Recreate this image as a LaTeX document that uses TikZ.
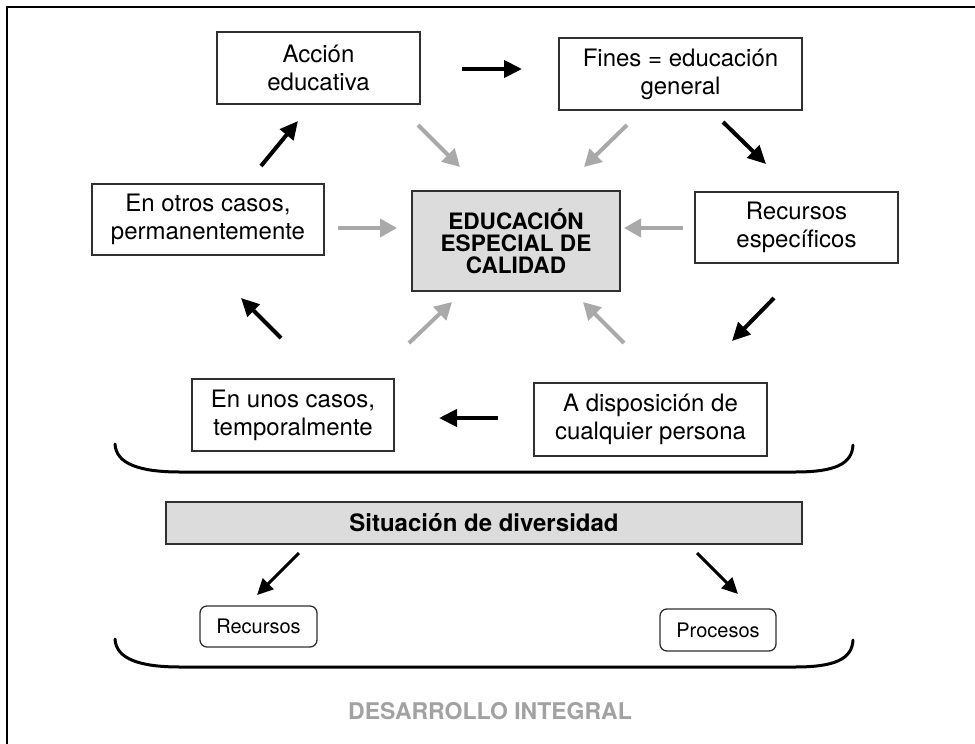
\documentclass[tikz,border=0pt]{standalone}
\usepackage{fontspec}
\setmainfont{TeX Gyre Heros}
\usetikzlibrary{arrows.meta}
\definecolor{grisborde}{HTML}{303030}
\definecolor{grisfondo}{HTML}{DCDCDC}
\definecolor{grisflecha}{HTML}{A9A9A9}
\definecolor{gristexto}{HTML}{A2A2A2}
\begin{document}
\begin{tikzpicture}[x=1pt,y=-1pt,
		caja/.style={draw=grisborde, line width=1.3pt, align=center, inner sep=0pt, font=\fontsize{24}{28}\selectfont},
		cajagris/.style={caja, fill=grisfondo, font=\bfseries\fontsize{22.6}{22}\selectfont},
		cajita/.style={caja, rounded corners=7pt, font=\fontsize{20}{24}\selectfont},
		negra/.style={line width=4pt, -{Triangle[length=18pt,width=17pt]}},
		gris/.style={negra, draw=grisflecha, -{Triangle[length=17pt,width=18pt]}},
		fina/.style={line width=3pt, -{Triangle[length=16pt,width=15pt]}},
		llave/.style={line width=3pt, line cap=round}]
		\useasboundingbox (0,0) rectangle (975,744);
		\draw[line width=1.5pt] (7,744) -- (7,7) -- (975,7);
		
		\node[caja, minimum width=203, minimum height=72] (accion) at (318.5,68) {Acción\\educativa};
		\node[caja, minimum width=243, minimum height=72] (fines) at (680.5,74) {Fines = educación\\general};
		\node[caja, minimum width=203, minimum height=71] (especificos) at (796.5,227.5) {Recursos\\específicos};
		\node[cajagris, minimum width=208, minimum height=100] (centro) at (516,241) {EDUCACIÓN\\ESPECIAL DE\\CALIDAD};
		\node[caja, minimum width=232, minimum height=71] (otros) at (208,219.5) {En otros casos,\\permanentemente};
		\node[caja, minimum width=202, minimum height=72] (unos) at (293,415) {En unos casos,\\temporalmente};
		\node[caja, minimum width=233, minimum height=73] (disposicion) at (650.5,419.5) {A disposición de\\cualquier persona};
		\node[cajagris, minimum width=636, minimum height=42, font=\bfseries\fontsize{24}{28}\selectfont] (situacion) at (484,523) {Situación de diversidad};
		\node[cajita, minimum width=117, minimum height=41] (recursos) at (258.5,626.5) {Recursos};
		\node[cajita, minimum width=116, minimum height=42] (procesos) at (718,630) {Procesos};
		\node[text=gristexto, font=\bfseries\fontsize{23}{23}\selectfont] (desarrollo) at (490,711) {DESARROLLO INTEGRAL};
		
		% flechas del ciclo
		\coordinate (n1a) at (462,69);  \coordinate (n1b) at (522,69);
		\coordinate (n2a) at (723,122); \coordinate (n2b) at (766,164);
		\coordinate (n3a) at (774,298); \coordinate (n3b) at (732,341);
		\coordinate (n4a) at (498,418); \coordinate (n4b) at (439,418);
		\coordinate (n5a) at (281,338); \coordinate (n5b) at (241,298);
		\coordinate (n6a) at (261,166); \coordinate (n6b) at (298,121);
		\draw[negra] (n1a) -- (n1b);
		\draw[negra] (n2a) -- (n2b);
		\draw[negra] (n3a) -- (n3b);
		\draw[negra] (n4a) -- (n4b);
		\draw[negra] (n5a) -- (n5b);
		\draw[negra] (n6a) -- (n6b);
		
		% flechas hacia el centro
		\coordinate (g1a) at (418,125); \coordinate (g1b) at (460,167);
		\coordinate (g2a) at (627,125); \coordinate (g2b) at (584,167);
		\coordinate (g3a) at (338,228); \coordinate (g3b) at (397,228);
		\coordinate (g4a) at (683,228); \coordinate (g4b) at (624,228);
		\coordinate (g5a) at (409,343); \coordinate (g5b) at (452,302);
		\coordinate (g6a) at (624,343); \coordinate (g6b) at (583,302);
		\foreach \i in {1,...,6}
			\draw[gris] (g\i a) -- (g\i b);
		
		% llaves
		\draw[llave] (115,444) .. controls (116,464) and (140,472) .. (180,472) -- (795,472) .. controls (835,472) and (852,464) .. (853,445);
		\draw[llave] (115,639) .. controls (116,659) and (140,667) .. (180,667) -- (795,667) .. controls (835,667) and (852,659) .. (853,640);
		
		\coordinate (s1) at (299,553); \coordinate (s2) at (697,553);
		\draw[fina] (s1) -- (257,595);
		\draw[fina] (s2) -- (738,594);
		
	\end{tikzpicture}
\end{document}
